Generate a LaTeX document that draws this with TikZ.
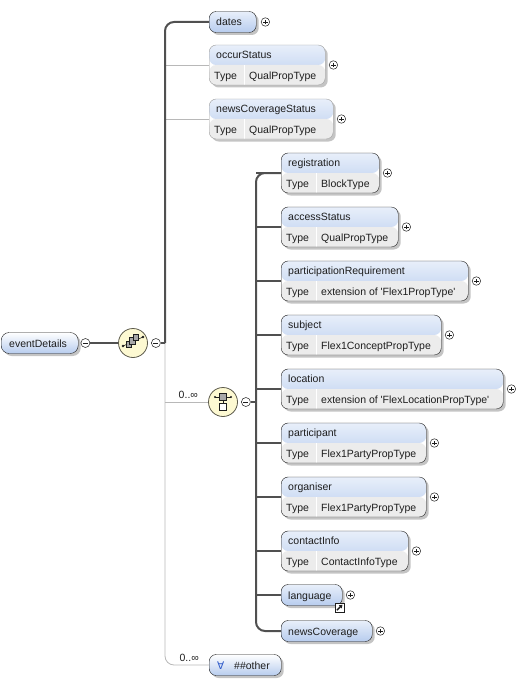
\documentclass[tikz,border=0pt]{standalone}
\usepackage{fontspec}
\newfontfamily\diagramfont{Liberation Sans}
\newfontfamily\symbolfont{DejaVu Sans}
\usetikzlibrary{arrows.meta,positioning,shadows}
\definecolor{ink}{HTML}{1E1E1E}
\definecolor{barline}{HTML}{505050}
\definecolor{optline}{HTML}{B8B8B8}
\definecolor{optedge}{HTML}{9C9C9C}
\definecolor{headtop}{HTML}{E8EFFA}
\definecolor{headbot}{HTML}{B7CCEE}
\definecolor{typecell}{HTML}{ECECEC}
\definecolor{boxshadow}{HTML}{C4C4C4}
\definecolor{compfill}{HTML}{FDF9D2}
\definecolor{compedge}{HTML}{5C5A4C}
\definecolor{cubegray}{HTML}{A8A8A8}
\definecolor{forall}{HTML}{2B58C9}

\begin{document}
\begin{tikzpicture}[x=1pt,y=-1pt,font=\diagramfont\fontsize{10.5}{12.6}\selectfont,
  shadowed/.style={drop shadow={shadow xshift=2.5pt,shadow yshift=-2.5pt,fill=boxshadow,opacity=1}},
  elem/.style={shadowed,draw=ink,rounded corners=7pt,inner sep=0pt,minimum height=21pt,top color=headtop,bottom color=headbot},
  typed/.style={shadowed,draw=ink,rounded corners=7pt,inner sep=0pt,minimum height=40pt,fill=white,
    path picture={
      \shade[top color=headtop,bottom color=headbot] (path picture bounding box.north west) rectangle (path picture bounding box.east);
      \fill[typecell] (path picture bounding box.west) rectangle (path picture bounding box.south east);
      \draw[white,line width=1pt] ([xshift=35pt]path picture bounding box.west) -- ([xshift=35pt]path picture bounding box.south west);}},
  title/.style={anchor=base west,inner sep=0pt,text=ink},
  expand/.style={circle,draw=ink,fill=white,inner sep=0pt,minimum size=8.5pt,line width=0.5pt,
    path picture={\draw[ink,line width=0.6pt] ([xshift=-2.2pt]path picture bounding box.center) -- ([xshift=2.2pt]path picture bounding box.center)
      ([yshift=-2.2pt]path picture bounding box.center) -- ([yshift=2.2pt]path picture bounding box.center);}},
  collapse/.style={circle,draw=ink,fill=white,inner sep=0pt,minimum size=9pt,line width=0.5pt,
    path picture={\draw[ink,line width=0.6pt] ([xshift=-2.5pt]path picture bounding box.center) -- ([xshift=2.5pt]path picture bounding box.center);}},
  compositor/.style={circle,draw=compedge,fill=compfill,line width=0.8pt,minimum size=29pt,inner sep=0pt},
  refmark/.style={draw=ink,fill=white,minimum size=9pt,inner sep=0pt,line width=0.5pt,
    path picture={\draw[ink,line width=1.3pt,-{Triangle[length=3pt,width=4pt]}] ([shift={(2pt,2pt)}]path picture bounding box.south west) -- ([shift={(-1.5pt,-1.5pt)}]path picture bounding box.north east);}},
  req/.style={draw=barline,line width=2pt},
  opt/.style={draw=optline,line width=0.8pt},
  occurs/.style={anchor=south east,inner sep=0pt,text=ink}]
\useasboundingbox (0,0) rectangle (524,682);

\node[elem,minimum width=77pt,anchor=west,rounded corners=8pt,top color=white] (eventDetails) at (1,343) {};
\node[title] (eventDetails-title) at ([xshift=8pt,yshift=-4pt]eventDetails.west) {eventDetails};
\node[collapse] (eventDetails-minus) at ([xshift=7pt]eventDetails.east) {};

\node[compositor] (seq) at (133,343) {};
\begin{scope}[shift={(seq.center)}]
\draw[ink,line width=0.6pt] (-10,3) -- (10,-6);
\fill[ink] (-10,3) circle (1.3) (10,-6) circle (1.3);
\filldraw[fill=cubegray,draw=ink,line width=0.5pt] (-7,-2) rectangle (-1.5,4.5);
\filldraw[fill=cubegray,draw=ink,line width=0.5pt] (-3.5,-5.5) rectangle (2,1);
\filldraw[fill=cubegray,draw=ink,line width=0.5pt] (0,-9) rectangle (5.5,-2.5);
\end{scope}
\node[collapse] (seq-minus) at ([xshift=8pt]seq.east) {};
\coordinate (seqbar) at (165,343);

\node[elem,minimum width=47pt,anchor=west] (dates) at (209,22) {};
\node[title] (dates-title) at ([xshift=7pt,yshift=-4pt]dates.west) {dates};
\node[expand] (dates-plus) at ([xshift=9pt]dates.east) {};

\foreach \name/\y/\w in {occurStatus/65/116,newsCoverageStatus/119/124}{
  \node[typed,draw=optedge,minimum width=\w pt,anchor=west] (\name) at (209,\y) {};
  \node[title] (\name-title) at ([xshift=7pt,yshift=-14pt]\name.north west) {\name};
  \node[title] (\name-kind) at ([xshift=5pt,yshift=6pt]\name.south west) {Type};
  \node[title] (\name-value) at ([xshift=40pt,yshift=6pt]\name.south west) {QualPropType};
  \node[expand] (\name-plus) at ([xshift=8pt]\name.east) {};
  \draw[opt] (\name.west -| seqbar) -- (\name.west);
}

\node[compositor] (choice) at (223,402) {};
\begin{scope}[shift={(choice.center)}]
\draw[ink,line width=0.6pt] (-8,-5) -- (8,-5) (0,-2) -- (0,2);
\fill[ink] (-8,-5) circle (1.2) (8,-5) circle (1.2);
\filldraw[fill=cubegray,draw=ink,line width=0.5pt] (-3.5,-8.5) rectangle (3.5,-2);
\filldraw[fill=white,draw=ink,line width=0.5pt] (-3.5,1.5) rectangle (3.5,8.5);
\end{scope}
\node[collapse] (choice-minus) at ([xshift=8pt]choice.east) {};
\node[occurs] (choice-occurs) at ([xshift=-10pt,yshift=3pt]choice.west) {0..∞};
\coordinate (choicebar) at (256,402);

\foreach \name/\y/\w/\kind in {registration/173/98/BlockType,accessStatus/227/117/QualPropType,
  participationRequirement/281/187/extension of 'Flex1PropType',subject/335/160/Flex1ConceptPropType,
  location/389/222/extension of 'FlexLocationPropType',participant/443/145/Flex1PartyPropType,
  organiser/497/145/Flex1PartyPropType,contactInfo/551/127/ContactInfoType}{
  \node[typed,minimum width=\w pt,anchor=west] (\name) at (281,\y) {};
  \node[title] (\name-title) at ([xshift=7pt,yshift=-14pt]\name.north west) {\name};
  \node[title] (\name-kind) at ([xshift=5pt,yshift=6pt]\name.south west) {Type};
  \node[title] (\name-value) at ([xshift=40pt,yshift=6pt]\name.south west) {\kind};
  \node[expand] (\name-plus) at ([xshift=8pt]\name.east) {};
  \draw[req] (\name.west -| choicebar) -- (\name.west);
}

\node[elem,minimum width=61pt,anchor=west] (language) at (281,595) {};
\node[title] (language-title) at ([xshift=7pt,yshift=-4pt]language.west) {language};
\node[refmark] (language-ref) at ([xshift=-3pt,yshift=-2pt]language.south east) {};
\node[expand] (language-plus) at ([xshift=8pt]language.east) {};

\node[elem,minimum width=91pt,anchor=west] (newsCoverage) at (281,631) {};
\node[title] (newsCoverage-title) at ([xshift=7pt,yshift=-4pt]newsCoverage.west) {newsCoverage};
\node[expand] (newsCoverage-plus) at ([xshift=8pt]newsCoverage.east) {};

\node[elem,minimum width=72pt,anchor=west,top color=white] (other) at (209,665) {};
\node[title,text=forall,font=\symbolfont\fontsize{10.5}{12.6}\selectfont] (other-any) at ([xshift=8pt,yshift=-4pt]other.west) {∀};
\node[title] (other-title) at ([xshift=25pt,yshift=-4pt]other.west) {\#\#other};
\node[occurs] (other-occurs) at ([xshift=-10pt,yshift=3pt]other.west) {0..∞};

\draw[opt] (choice.west -| seqbar) -- (choice.west);
\draw[opt,rounded corners=9pt] (seqbar) |- (other.west);
\draw[req] (eventDetails-minus.east) -- (seq.west);
\draw[req] (seq-minus.east) -- (seqbar);
\draw[req,rounded corners=9pt] (seqbar) |- (dates.west);
\draw[req] (choice-minus.east) -- (choicebar);
\draw[req,rounded corners=9pt] (registration.west) -| (choicebar) |- (newsCoverage.west);
\draw[req] (language.west -| choicebar) -- (language.west);
\end{tikzpicture}
\end{document}
